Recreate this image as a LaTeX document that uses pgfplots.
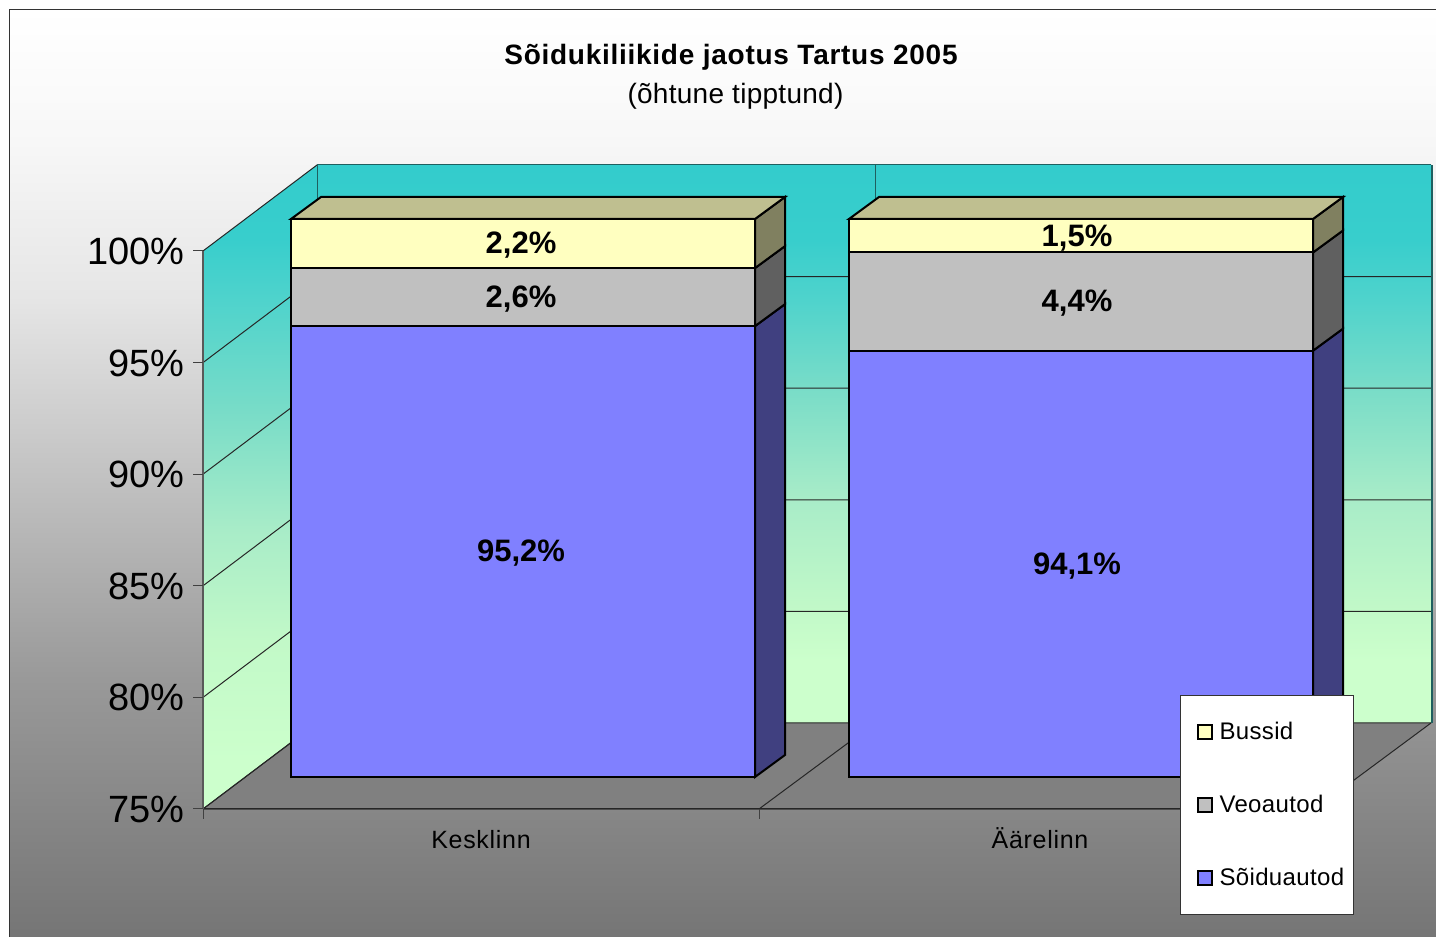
\documentclass[border=0pt]{standalone}
\usepackage{fontspec}
\setmainfont{Liberation Sans}
\usepackage{pgfplots}
\pgfplotsset{compat=1.18}
\definecolor{floorC}{HTML}{808080}
\definecolor{blueF}{HTML}{8080FF}
\definecolor{blueS}{HTML}{404080}
\definecolor{greyF}{HTML}{C0C0C0}
\definecolor{greyS}{HTML}{606060}
\definecolor{yelF}{HTML}{FFFFC0}
\definecolor{yelS}{HTML}{808060}
\definecolor{yelT}{HTML}{BFBF90}
\definecolor{wallLine}{HTML}{1F5F5F}
\definecolor{wa}{HTML}{33CCCC}
\definecolor{wb}{HTML}{38CECC}
\definecolor{wc}{HTML}{4FD3CC}
\definecolor{wd}{HTML}{78DCC8}
\definecolor{we}{HTML}{A8ECC8}
\definecolor{wf}{HTML}{C2F9C8}
\definecolor{wg}{HTML}{CCFFCC}
\pgfdeclareverticalshading{backwall}{100bp}{%
 color(0bp)=(wg); color(30.6bp)=(wg); color(35bp)=(wf); color(45.1bp)=(we);
 color(55.1bp)=(wd); color(62.9bp)=(wc); color(68.3bp)=(wb); color(75bp)=(wa); color(100bp)=(wa)}
\pgfdeclareverticalshading{sidewall}{100bp}{%
 color(0bp)=(wg); color(28.8bp)=(wg); color(38bp)=(wf); color(46.7bp)=(we);
 color(56bp)=(wd); color(64.5bp)=(wc); color(69.2bp)=(wb); color(75bp)=(wa); color(100bp)=(wa)}
\pgfdeclareverticalshading{chartbg}{100bp}{%
 color(0bp)=(black!54); color(25bp)=(black!54); color(38.9bp)=(black!40);
 color(59.4bp)=(black!10); color(68bp)=(black!3); color(75bp)=(white); color(100bp)=(white)}
\newcommand{\fs}[1]{\fontsize{#1}{#1}\selectfont}
\begin{document}
\begin{tikzpicture}[x=1pt,y=1pt]
\useasboundingbox (0,0) rectangle (1436,937);
\fill[white] (0,0) rectangle (1436,937);
\path[shading=chartbg] (9.5,0) rectangle (1436,927.5);
\draw[color=black!80,line width=1.5pt] (9.5,0) -- (9.5,927.5) -- (1436,927.5);
\node[font=\bfseries\fs{28}\addfontfeature{LetterSpace=2.6},anchor=center] at (731,880) {Sõidukiliikide jaotus Tartus 2005};
\node[font=\fs{28}\addfontfeature{LetterSpace=1},anchor=center] at (735.5,841) {(õhtune tipptund)};
% frame of the chart: walls, floor, scale at the front edge
\begin{axis}[
  at={(203pt,128pt)},anchor=south west,
  scale only axis,width=1112pt,height=558pt,
  xmin=203,xmax=1315,ymin=75,ymax=100,
  clip=false,
  axis x line=bottom,axis y line=left,
  axis line style={-,line width=1.2pt,color=black!70},
  tick align=outside,
  major tick length=10pt,
  tick style={line width=1pt,color=black!75},
  ytick={75,80,85,90,95,100},
  yticklabels={75\%,80\%,85\%,90\%,95\%,100\%},
  xtick={203,759,1315},
  xticklabels={},
  extra x ticks={481,1040},
  extra x tick labels={Kesklinn,Äärelinn},
  extra x tick style={major tick length=0pt,tick style={draw=none},
    x tick label style={font=\fs{25}\addfontfeature{LetterSpace=2.8},yshift=-18pt,text height=18pt,text depth=0pt}},
  y tick label style={font=\fs{38},xshift=-5pt,yshift=-0.5pt},
]
\path[fill=floorC] (axis cs:203,75) -- (axis cs:317,78.853) -- (axis cs:1431,78.853) -- (axis cs:1315,75) -- cycle;
\path[shading=backwall] (axis cs:317,78.853) rectangle (axis cs:1431,103.853);
\path[shading=sidewall] (axis cs:203,75) -- (axis cs:317,78.853) -- (axis cs:317,103.853) -- (axis cs:203,100) -- cycle;
\pgfplotsinvokeforeach{75,80,85,90,95}{
  \pgfmathsetmacro{\yb}{#1+3.853}
  \addplot[line width=1pt,color=black!85,forget plot] coordinates {(203,#1) (317,\yb) (1431,\yb)};
}
\addplot[line width=1pt,color=black!85,forget plot] coordinates {(203,100) (317,103.853)};
\addplot[line width=1pt,color=wallLine,forget plot] coordinates {(317,103.853) (1431,103.853)};
\addplot[line width=1pt,color=wallLine,forget plot] coordinates {(317,78.853) (317,103.853)};
\addplot[line width=1pt,color=wallLine,forget plot] coordinates {(875,78.853) (875,103.853)};
\addplot[line width=1pt,color=black!85,forget plot] coordinates {(203,75) (317,78.853)};
\addplot[line width=1pt,color=black!85,forget plot] coordinates {(759,75) (875,78.853)};
\addplot[line width=1pt,color=black!85,forget plot] coordinates {(1315,75) (1431,78.853)};
\addplot[line width=1pt,color=black!85,forget plot] coordinates {(203,75) (1315,75)};
\addplot[line width=1.2pt,color=black!65,forget plot] coordinates {(203,75) (203,100)};
\addplot[line width=2pt,color=wallLine,forget plot] coordinates {(1432,78.853) (1432,103.853)};
% scale ticks at the front edge
\addplot[line width=1pt,color=black!75,forget plot] coordinates {(193,100) (203,100)};
\addplot[line width=1pt,color=black!75,forget plot] coordinates {(193,95) (203,95)};
\addplot[line width=1pt,color=black!75,forget plot] coordinates {(193,90) (203,90)};
\addplot[line width=1pt,color=black!75,forget plot] coordinates {(193,85) (203,85)};
\addplot[line width=1pt,color=black!75,forget plot] coordinates {(193,80) (203,80)};
\addplot[line width=1pt,color=black!75,forget plot] coordinates {(193,75) (203,75)};
\end{axis}
% the bars
\begin{axis}[
  at={(203pt,160pt)},anchor=south west,
  scale only axis,width=1112pt,height=558pt,
  xmin=203,xmax=1315,ymin=75,ymax=100,
  clip=false,hide axis,
  legend style={at={(0.8786,0.147)},anchor=north west,draw=black!80,line width=1pt,fill=white,
    font=\fs{24}\addfontfeature{LetterSpace=1.5},inner xsep=7pt,inner ysep=25pt,
    /tikz/every even column/.append style={column sep=0pt},
    row sep=50pt,cells={anchor=west}},
  legend cell align=left,
  legend image code/.code={\draw[#1,line width=2pt] (9pt,-7pt) rectangle (23pt,7pt);\path (0pt,0pt) (28pt,0pt);},
  every axis plot/.append style={line width=2pt,draw=black},
]
% Kesklinn
\addplot[fill=yelF] coordinates {(291,97.8) (755,97.8) (755,100) (291,100)} --cycle;
\addlegendentry{Bussid}
\addplot[fill=greyF] coordinates {(291,95.2) (755,95.2) (755,97.8) (291,97.8)} --cycle;
\addlegendentry{Veoautod}
\addplot[fill=blueF] coordinates {(291,75) (755,75) (755,95.2) (291,95.2)} --cycle;
\addlegendentry{Sõiduautod\rule[-19pt]{0pt}{1pt}}
\addplot[fill=blueS,forget plot] coordinates {(755,75) (785,75.986) (785,96.186) (755,95.2)} --cycle;
\addplot[fill=greyS,forget plot] coordinates {(755,95.2) (785,96.186) (785,98.786) (755,97.8)} --cycle;
\addplot[fill=yelS,forget plot] coordinates {(755,97.8) (785,98.786) (785,100.986) (755,100)} --cycle;
\addplot[fill=yelT,forget plot] coordinates {(291,100) (755,100) (785,100.986) (321,100.986)} --cycle;
% Äärelinn
\addplot[fill=blueF,forget plot] coordinates {(849,75) (1313,75) (1313,94.1) (849,94.1)} --cycle;
\addplot[fill=greyF,forget plot] coordinates {(849,94.1) (1313,94.1) (1313,98.5) (849,98.5)} --cycle;
\addplot[fill=yelF,forget plot] coordinates {(849,98.5) (1313,98.5) (1313,100) (849,100)} --cycle;
\addplot[fill=blueS,forget plot] coordinates {(1313,75) (1343,75.986) (1343,95.086) (1313,94.1)} --cycle;
\addplot[fill=greyS,forget plot] coordinates {(1313,94.1) (1343,95.086) (1343,99.486) (1313,98.5)} --cycle;
\addplot[fill=yelS,forget plot] coordinates {(1313,98.5) (1343,99.486) (1343,100.986) (1313,100)} --cycle;
\addplot[fill=yelT,forget plot] coordinates {(849,100) (1313,100) (1343,100.986) (879,100.986)} --cycle;
% value labels
\addplot[draw=none,mark=none,forget plot,nodes near coords,point meta=explicit symbolic,
  nodes near coords style={anchor=center,font=\bfseries\fs{31},text=black,yshift=-2pt}]
 table[meta=label] {
x y label
521 85.1 95,2\%
521 96.5 2,6\%
521 98.9 2,2\%
1077 84.55 94,1\%
1077 96.3 4,4\%
1077 99.25 1,5\%
};
\end{axis}
\end{tikzpicture}
\end{document}
